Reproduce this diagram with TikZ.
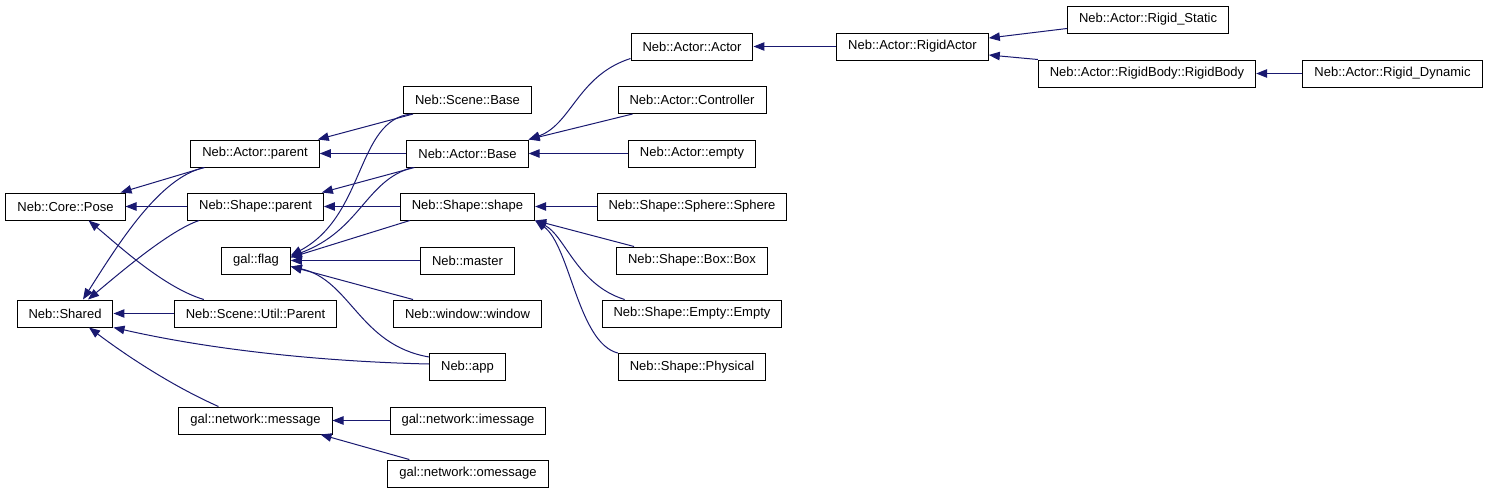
\documentclass[tikz,border=0pt]{standalone}
\usepackage{fontspec}
\setmainfont{Liberation Sans}
\usetikzlibrary{arrows.meta, positioning}
\definecolor{edgeblue}{HTML}{191970}
\tikzset{
  cls/.style={draw=black, line width=1pt, fill=white, rectangle, minimum height=27pt,
    inner xsep=11.5pt, inner ysep=0pt, font=\fontsize{13}{15}\selectfont},
  inh/.style={draw=edgeblue, line width=1pt, {Triangle[length=11pt,width=8.5pt]}-}
}

\begin{document}
\begin{tikzpicture}[x=1pt, y=-1pt]
  \useasboundingbox (0,0) rectangle (1496,493);

  % الأصناف
  \node[cls] (pose) at (65.5,206.5) {Neb::Core::Pose};
  \node[cls] (shared) at (65,313.5) {Neb::Shared};

  \node[cls] (actorparent) at (255,153.5) {Neb::Actor::parent};
  \node[cls] (shapeparent) at (255.5,206.5) {Neb::Shape::parent};
  \node[cls] (flag) at (256,260.5) {gal::flag};
  \node[cls] (utilparent) at (255.5,313.5) {Neb::Scene::Util::Parent};
  \node[cls] (message) at (255.5,420.5) {gal::network::message};

  \node[cls] (scenebase) at (467.5,100) {Neb::Scene::Base};
  \node[cls] (actorbase) at (467.5,153.5) {Neb::Actor::Base};
  \node[cls] (shapeshape) at (467.5,206.5) {Neb::Shape::shape};
  \node[cls] (master) at (467.5,260.5) {Neb::master};
  \node[cls] (window) at (467.5,313.5) {Neb::window::window};
  \node[cls] (app) at (467.5,367) {Neb::app};
  \node[cls] (imessage) at (468,420.5) {gal::network::imessage};
  \node[cls] (omessage) at (468,473.5) {gal::network::omessage};

  \node[cls] (actoractor) at (692,46.5) {Neb::Actor::Actor};
  \node[cls] (controller) at (692,100) {Neb::Actor::Controller};
  \node[cls] (empty) at (692,153.5) {Neb::Actor::empty};
  \node[cls] (sphere) at (692,206.5) {Neb::Shape::Sphere::Sphere};
  \node[cls] (box) at (692,260.5) {Neb::Shape::Box::Box};
  \node[cls] (emptyempty) at (692,313.5) {Neb::Shape::Empty::Empty};
  \node[cls] (physical) at (692,367) {Neb::Shape::Physical};

  \node[cls] (rigidactor) at (912.5,46.5) {Neb::Actor::RigidActor};
  \node[cls] (rigidstatic) at (1148,19.5) {Neb::Actor::Rigid\_Static};
  \node[cls] (rigidbody) at (1147,73.5) {Neb::Actor::RigidBody::RigidBody};
  \node[cls] (rigiddynamic) at (1392.5,73.5) {Neb::Actor::Rigid\_Dynamic};

  % الوراثة نحو Pose و Shared
  \draw[inh] ([xshift=-5pt]pose.north east) -- ([xshift=14pt]actorparent.south west);
  \draw[inh] (pose) -- (shapeparent);
  \draw[inh] ([xshift=-37pt]pose.south east) .. controls +(30,25) and +(-40,-12) .. ([xshift=30pt]utilparent.north west);
  \draw[inh] ([xshift=18pt]shared.north) .. controls +(35,-55) and +(-45,10) .. ([xshift=14pt]actorparent.south west);
  \draw[inh] ([xshift=23pt]shared.north) .. controls +(30,-25) and +(-30,10) .. ([xshift=12pt]shapeparent.south west);
  \draw[inh] (shared) -- (utilparent);
  \draw[inh] (shared.south east) .. controls +(110,25) and +(-90,-2) .. ([yshift=3pt]app.west);
  \draw[inh] ([xshift=24pt]shared.south) .. controls +(40,30) and +(-45,-20) .. ([xshift=40pt]message.north west);

  % الوراثة نحو parent و flag
  \draw[inh] ([xshift=-2pt]actorparent.north east) -- ([xshift=10pt]scenebase.south west);
  \draw[inh] (actorparent) -- (actorbase);
  \draw[inh] ([xshift=-2pt]shapeparent.north east) -- ([xshift=8pt]actorbase.south west);
  \draw[inh] (shapeparent) -- (shapeshape);
  \draw[inh] ([yshift=5pt]flag.east) .. controls +(75,-40) and +(-55,6) .. ([xshift=8pt]scenebase.south west);
  \draw[inh] ([yshift=4pt]flag.east) .. controls +(70,-26) and +(-47,13) .. ([xshift=6pt]actorbase.south west);
  \draw[inh] ([yshift=3pt]flag.east) -- ([xshift=10pt]shapeshape.south west);
  \draw[inh] (flag) -- (master);
  \draw[inh] ([yshift=-6pt]flag.east) -- ([xshift=20pt]window.north west);
  \draw[inh] ([yshift=-6pt]flag.east) .. controls +(60,13.5) and +(-70,-12) .. ([yshift=10pt]app.west);

  % الوراثة نحو Base و shape
  \draw[inh] (actorbase.north east) .. controls +(43,-15) and +(-53,17) .. ([yshift=2pt]actoractor.south west);
  \draw[inh] (actorbase.north east) -- ([xshift=15pt]controller.south west);
  \draw[inh] (actorbase) -- (empty);
  \draw[inh] (shapeshape) -- (sphere);
  \draw[inh] (shapeshape.south east) -- ([xshift=18pt]box.north west);
  \draw[inh] (shapeshape.south east) .. controls +(30,15) and +(-48,-15) .. ([xshift=23pt]emptyempty.north west);
  \draw[inh] (shapeshape.south east) .. controls +(35,25) and +(-40,-10) .. (physical.north west);

  % الأجسام الصلبة
  \draw[inh] (actoractor) -- (rigidactor);
  \draw[inh] ([yshift=8.5pt]rigidactor.east) -- ([yshift=-9pt]rigidstatic.west);
  \draw[inh] ([yshift=-8.5pt]rigidactor.east) -- (rigidbody.north west);
  \draw[inh] (rigidbody) -- (rigiddynamic);

  % الرسائل
  \draw[inh] (message) -- (imessage);
  \draw[inh] ([xshift=-12pt]message.south east) -- ([xshift=22pt]omessage.north west);
\end{tikzpicture}
\end{document}
